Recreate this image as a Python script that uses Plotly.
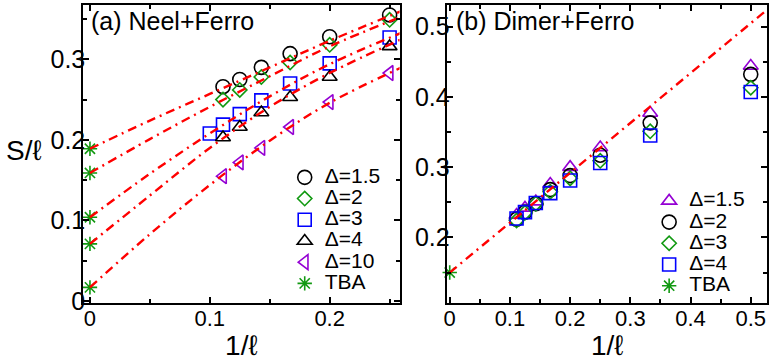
import plotly.graph_objects as go
from plotly.subplots import make_subplots

# ---- panel (a) Neel+Ferro ------------------------------------------------
inv_l_a    = [0.111, 0.125, 0.143, 0.167, 0.2, 0.25]
inv_l_a10  = [0.1, 0.111, 0.125, 0.143, 0.167, 0.2, 0.25]
a_d15 = [0.266, 0.275, 0.290, 0.307, 0.328, 0.355]
a_d2  = [0.250, 0.262, 0.278, 0.296, 0.318, 0.349]
a_d3  = [0.208, 0.219, 0.232, 0.249, 0.270, 0.295, 0.327]
a_d4  = [0.203, 0.216, 0.234, 0.253, 0.278, 0.316]
a_d10 = [0.155, 0.172, 0.190, 0.216, 0.247, 0.283]
a_tba_x = [0, 0, 0, 0, 0]
a_tba_y = [0.189, 0.159, 0.104, 0.071, 0.017]

fit_x_a = [0, 0.05, 0.1, 0.15, 0.2, 0.26]
fit_a = [
    [0.189, 0.224, 0.257, 0.290, 0.323, 0.360],
    [0.159, 0.201, 0.241, 0.279, 0.316, 0.353],
    [0.104, 0.158, 0.208, 0.254, 0.294, 0.333],
    [0.071, 0.131, 0.190, 0.241, 0.283, 0.325],
    [0.017, 0.083, 0.144, 0.199, 0.246, 0.290],
]

# ---- panel (b) Dimer+Ferro -----------------------------------------------
inv_l_b = [0.111, 0.125, 0.143, 0.167, 0.2, 0.25, 0.333, 0.5]
b_d15 = [0.232, 0.242, 0.251, 0.276, 0.300, 0.328, 0.377, 0.444]
b_d2  = [0.226, 0.236, 0.248, 0.268, 0.288, 0.317, 0.363, 0.432]
b_d3  = [0.224, 0.235, 0.248, 0.265, 0.284, 0.309, 0.351, 0.413]
b_d4  = [0.227, 0.236, 0.249, 0.263, 0.281, 0.306, 0.345, 0.407]
b_tba_x = [0]
b_tba_y = [0.150]
fit_x_b = [0, 0.53]
fit_b   = [0.150, 0.526]

COLORS = {
    "black":  "#000000",
    "green":  "#119911",
    "blue":   "#0000ff",
    "violet": "#9400d3",
    "red":    "#ff0000",
}
FONT = "Liberation Sans, Arial, Helvetica, sans-serif"
LEG_TXT = '<span style="font-size:21px">{}</span>'

fig = make_subplots(rows=1, cols=2)


def marker(symbol, color, size):
    return dict(symbol=symbol, size=size, color=color,
                line=dict(color=color, width=1.6))


def add_fit(x, y, col):
    fig.add_trace(go.Scatter(
        x=x, y=y, mode="lines", showlegend=False, hoverinfo="skip",
        line=dict(color=COLORS["red"], width=2.4, dash="9px,5px,2px,5px",
                  shape="spline"),
    ), row=1, col=col)


# panel a markers
series_a = [
    (inv_l_a,   a_d15, "Δ=1.5", "circle-open",        COLORS["black"],  14),
    (inv_l_a,   a_d2,  "Δ=2",   "diamond-open",       COLORS["green"],  11),
    (inv_l_a10, a_d3,  "Δ=3",   "square-open",        COLORS["blue"],   13),
    (inv_l_a,   a_d4,  "Δ=4",   "triangle-up-open",   COLORS["black"],  13),
    (inv_l_a,   a_d10, "Δ=10",  "triangle-left-open", COLORS["violet"], 13),
    (a_tba_x,   a_tba_y, "TBA", "asterisk-open",      COLORS["green"],  12),
]
for x, y, name, sym, c, s in series_a:
    fig.add_trace(go.Scatter(
        x=x, y=y, mode="markers", name=LEG_TXT.format(name),
        marker=marker(sym, c, s), legend="legend", cliponaxis=False,
    ), row=1, col=1)
for y in fit_a:
    add_fit(fit_x_a, y, 1)

# panel b markers
series_b = [
    (inv_l_b, b_d15, "Δ=1.5", "triangle-up-open", COLORS["violet"], 13),
    (inv_l_b, b_d2,  "Δ=2",   "circle-open",      COLORS["black"],  14),
    (inv_l_b, b_d3,  "Δ=3",   "diamond-open",     COLORS["green"],  11),
    (inv_l_b, b_d4,  "Δ=4",   "square-open",      COLORS["blue"],   13),
    (b_tba_x, b_tba_y, "TBA", "asterisk-open",    COLORS["green"],  12),
]
for x, y, name, sym, c, s in series_b:
    fig.add_trace(go.Scatter(
        x=x, y=y, mode="markers", name=LEG_TXT.format(name),
        marker=marker(sym, c, s), legend="legend2", cliponaxis=False,
    ), row=1, col=2)
add_fit(fit_x_b, fit_b, 2)

AXIS = dict(
    showline=True, linecolor="black", linewidth=1.5, mirror="allticks",
    ticks="inside", ticklen=6, tickwidth=1.5, tickcolor="black",
    showgrid=False, zeroline=False,
    minor=dict(ticks="inside", ticklen=4, tickwidth=1.5, tickcolor="black",
               dtick=0.05, showgrid=False),
    dtick=0.1, tick0=0,
)
XTITLE = dict(text="1/ℓ", font=dict(size=28, family=FONT, color="black"),
              standoff=7)

fig.update_xaxes(**AXIS, ticklabelstandoff=-5,
                 tickfont=dict(size=22, color="black", family=FONT))
fig.update_yaxes(**AXIS, ticklabelstandoff=-9,
                 tickfont=dict(size=25, color="black", family=FONT))
fig.update_xaxes(range=[-0.0058, 0.2583], domain=[0, 0.4628],
                 title=XTITLE, row=1, col=1)
fig.update_xaxes(range=[-0.0038, 0.527], domain=[0.5328, 1],
                 title=XTITLE, row=1, col=2)
fig.update_yaxes(range=[-0.0024, 0.3674], row=1, col=1)
fig.update_yaxes(range=[0.1067, 0.5307], row=1, col=2)

LEGEND = dict(
    bgcolor="rgba(0,0,0,0)", borderwidth=0,
    font=dict(size=14, family=FONT, color="black"),
    xanchor="left", yanchor="top", itemsizing="trace",
    tracegroupgap=0,
)

fig.update_layout(
    width=772, height=361,
    margin=dict(l=83, r=4, t=3, b=54),
    paper_bgcolor="white", plot_bgcolor="white",
    font=dict(family=FONT, color="black"),
    legend=dict(**LEGEND, x=0.2949, y=0.474),
    legend2=dict(**LEGEND, x=0.8277, y=0.395),
    annotations=[
        dict(text="(a) Neel+Ferro", xref="x domain", yref="y domain",
             x=0.02, y=1.0, xanchor="left", yanchor="top", showarrow=False,
             font=dict(size=25, family=FONT, color="black")),
        dict(text="(b) Dimer+Ferro", xref="x2 domain", yref="y2 domain",
             x=0.02, y=1.0, xanchor="left", yanchor="top", showarrow=False,
             font=dict(size=25, family=FONT, color="black")),
        dict(text="S/ℓ", xref="paper", yref="paper",
             x=-0.0861, y=0.513, xanchor="center", yanchor="middle",
             showarrow=False,
             font=dict(size=28, family=FONT, color="black")),
    ],
)

fig.write_html("out.html", config={"displayModeBar": False},
               post_script="document.body.style.margin='0';")
